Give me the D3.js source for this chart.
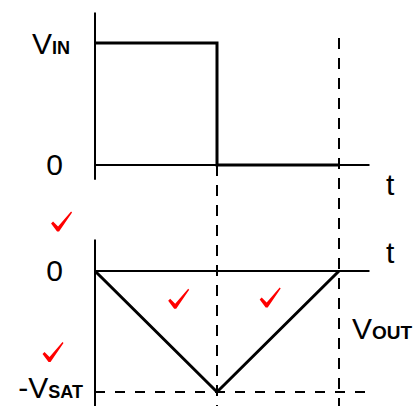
<!DOCTYPE html>
<html>
<head>
<meta charset="utf-8">
<script src="https://cdn.jsdelivr.net/npm/d3@7"></script>
<style>
body { margin: 0; background: #fff; }
svg { display: block; font-family: 'Liberation Sans', Arial, sans-serif; }
</style>
</head>
<body>
<div id="body"></div>
<script>
// waveform data (time in half-periods, voltage normalised)
let inTimes = [0, 1, 1, 2]
let inValues = [1, 1, 0, 0]
let outTimes = [0, 1, 2]
let outValues = [0, -1, 0]
let markTimes = [1, 2]          // dashed vertical guides
let satLevel = -1
// red check marks, placed in output-panel units
let checkT = [-0.27, -0.34, 0.69, 1.44]
let checkV = [0.41, -0.67, -0.23, -0.22]

let size = { width: 420, height: 406 }

let svg = d3.select('#body')
.append('svg')
.attr('width', size.width)
.attr('height', size.height)

//scales
let xScale = d3.scaleLinear().domain([0, 2]).range([95, 339])
let yTop = d3.scaleLinear().domain([0, 1]).range([165, 43])
let yBot = d3.scaleLinear().domain([-1, 0]).range([392, 271])

//dashed guides
svg.append('g').selectAll('line')
.data(markTimes)
.join('line')
.attr('x1', d => xScale(d)).attr('x2', d => xScale(d))
.attr('y1', d => d == 1 ? yTop(0) : yTop(1.04))
.attr('y2', size.height)
.attr('stroke', '#000').attr('stroke-width', 2)
.attr('stroke-dasharray', '11,9')

svg.append('line')
.attr('x1', xScale(0)).attr('x2', xScale(2.25))
.attr('y1', yBot(satLevel)).attr('y2', yBot(satLevel))
.attr('stroke', '#000').attr('stroke-width', 2)
.attr('stroke-dasharray', '10,10')

//axes
let axes = [
{ x1: 0, x2: 0, y1: yTop(1.25), y2: yTop(-0.12) },
{ x1: 0, x2: 2.25, y1: yTop(0), y2: yTop(0) },
{ x1: 0, x2: 0, y1: yBot(0.26), y2: size.height },
{ x1: 0, x2: 2.25, y1: yBot(0), y2: yBot(0) }
]
svg.append('g').selectAll('line')
.data(axes)
.join('line')
.attr('x1', d => xScale(d.x1)).attr('x2', d => xScale(d.x2))
.attr('y1', d => d.y1).attr('y2', d => d.y2)
.attr('stroke', '#000').attr('stroke-width', 2)

//signals
let inLine = d3.line().x((d, i) => xScale(inTimes[i])).y(d => yTop(d))
svg.append('path')
.attr('d', inLine(inValues))
.attr('fill', 'none').attr('stroke', '#000').attr('stroke-width', 3)

let outLine = d3.line().x((d, i) => xScale(outTimes[i])).y(d => yBot(d))
svg.append('path')
.attr('d', outLine(outValues))
.attr('fill', 'none').attr('stroke', '#000').attr('stroke-width', 3)

//labels
let lab = (x, y, anchor) => svg.append('text')
.attr('x', x).attr('y', y)
.attr('text-anchor', anchor)
.attr('font-size', 30)
.attr('fill', '#000')

let vin = lab(70, yTop(1) + 11, 'end')
vin.append('tspan').text('V')
vin.append('tspan').attr('font-size', 18).attr('font-weight', 'bold').text('IN')

lab(63, yTop(0) + 10, 'end').text('0')
lab(63, yBot(0) + 10, 'end').text('0')

let vsat = lab(83, yBot(satLevel) + 6, 'end')
vsat.append('tspan').text('-V')
vsat.append('tspan').attr('font-size', 18).attr('font-weight', 'bold').text('SAT')

let vout = lab(352, 339, 'start')
vout.append('tspan').text('V')
vout.append('tspan').attr('font-size', 19).attr('font-weight', 'bold').text('OUT')

lab(386, 195, 'start').text('t')
lab(386, 263, 'start').text('t')

//check marks: brush-style tick glyph, centred on each point
let tick = 'M-11,2 L-9,0 L-4,5 L9,-10 L10,-9 L-3,10 L-5,10 Z'
svg.append('g').selectAll('path')
.data(checkT)
.join('path')
.attr('transform', (d, i) => `translate(${xScale(d)},${yBot(checkV[i])})`)
.attr('d', tick)
.attr('fill', 'red')
</script>
</body>
</html>
